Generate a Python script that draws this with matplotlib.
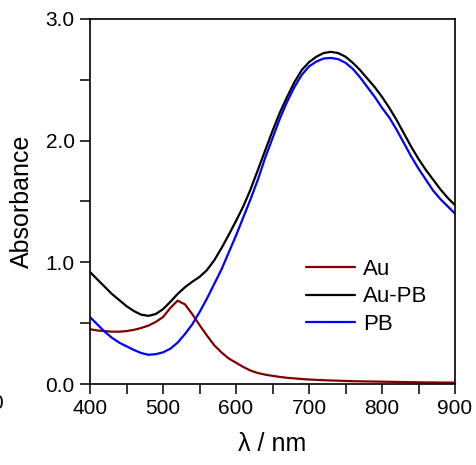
import matplotlib
matplotlib.use("Agg")
import matplotlib.pyplot as plt
from matplotlib.ticker import MultipleLocator, FormatStrFormatter

plt.rcParams['font.family'] = ['Liberation Sans', 'DejaVu Sans']

# Absorption spectra, wavelength in nm
wavelength = [400, 410, 420, 430, 440, 450, 460, 470, 480, 490,
              500, 510, 520, 530, 540, 550, 560, 570, 580, 590,
              600, 610, 620, 630, 640, 650, 660, 670, 680, 690,
              700, 710, 720, 730, 740, 750, 760, 770, 780, 790,
              800, 810, 820, 830, 840, 850, 860, 870, 880, 890, 900]

abs_au = [0.45, 0.44, 0.435, 0.43, 0.43, 0.435, 0.445, 0.46, 0.48, 0.51,
          0.55, 0.625, 0.685, 0.655, 0.575, 0.485, 0.40, 0.32, 0.26, 0.21,
          0.175, 0.14, 0.11, 0.09, 0.077, 0.067, 0.058, 0.051, 0.046, 0.041,
          0.037, 0.034, 0.031, 0.029, 0.027, 0.025, 0.023, 0.022, 0.021, 0.020,
          0.019, 0.018, 0.017, 0.016, 0.015, 0.014, 0.013, 0.013, 0.012, 0.012, 0.011]

abs_au_pb = [0.92, 0.86, 0.80, 0.74, 0.69, 0.64, 0.60, 0.57, 0.56, 0.575,
             0.615, 0.675, 0.74, 0.795, 0.84, 0.88, 0.935, 1.015, 1.115, 1.225,
             1.34, 1.46, 1.60, 1.76, 1.92, 2.08, 2.23, 2.36, 2.48, 2.58,
             2.645, 2.69, 2.72, 2.73, 2.72, 2.69, 2.64, 2.58, 2.51, 2.44,
             2.36, 2.27, 2.17, 2.06, 1.95, 1.85, 1.76, 1.68, 1.60, 1.53, 1.47]

abs_pb = [0.55, 0.49, 0.43, 0.38, 0.34, 0.31, 0.28, 0.255, 0.24, 0.245,
          0.26, 0.29, 0.34, 0.41, 0.49, 0.59, 0.70, 0.82, 0.94, 1.08,
          1.22, 1.37, 1.52, 1.68, 1.86, 2.02, 2.18, 2.32, 2.44, 2.54,
          2.61, 2.65, 2.675, 2.68, 2.67, 2.64, 2.59, 2.52, 2.44, 2.36,
          2.27, 2.19, 2.09, 1.98, 1.87, 1.77, 1.68, 1.59, 1.52, 1.46, 1.40]

series_labels = ["Au", "Au-PB", "PB"]
series_colors = ["#800000", "#000000", "#0000ff"]

fig = plt.figure(figsize=(4.76, 4.65), dpi=100)
ax = fig.add_axes([90 / 476, 81 / 465, 365 / 476, 365 / 465])

for y, lab, col in zip([abs_au, abs_au_pb, abs_pb], series_labels, series_colors):
    ax.plot(wavelength, y, color=col, lw=1.6, label=lab,
            solid_joinstyle='round', solid_capstyle='round')

ax.set_xlim(400, 900)
ax.set_ylim(0, 3.0)
ax.xaxis.set_major_locator(MultipleLocator(100))
ax.xaxis.set_minor_locator(MultipleLocator(50))
ax.yaxis.set_major_locator(MultipleLocator(1.0))
ax.yaxis.set_minor_locator(MultipleLocator(0.5))
ax.yaxis.set_major_formatter(FormatStrFormatter('%.1f'))

for which in ('major', 'minor'):
    ax.tick_params(axis='both', which=which, direction='out', length=7,
                   width=1.1, color='black')
ax.tick_params(axis='both', which='major', labelsize=15, pad=4)

for sp in ax.spines.values():
    sp.set_linewidth(1.2)

ax.set_xlabel("λ / nm", fontsize=18, labelpad=10)
ax.set_ylabel("Absorbance", fontsize=18, labelpad=8)

ax.legend(loc='center left', bbox_to_anchor=((306 - 90) / 365, (384 - 297) / 365),
          frameon=False, fontsize=16, handlelength=2.2, handletextpad=0.35,
          labelspacing=0.28, borderpad=0, borderaxespad=0)

fig.text(0.007, (465 - 403) / 465, "0", ha='right', va='center', fontsize=15)

fig.savefig("out.png", dpi=100)
